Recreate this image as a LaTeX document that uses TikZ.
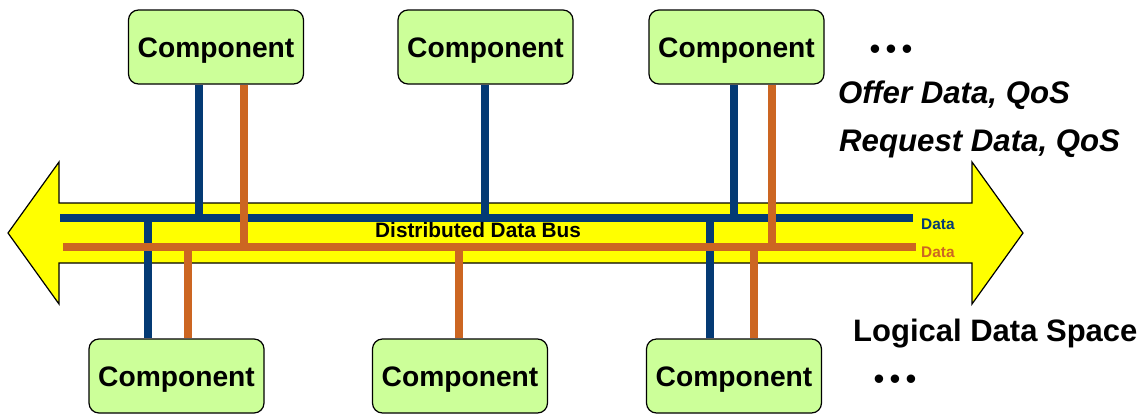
\documentclass[tikz,border=0pt]{standalone}
\usepackage{fontspec}
\setmainfont{Liberation Sans}
\definecolor{databLue}{RGB}{4,58,116}
\definecolor{busyellow}{RGB}{255,255,0}
\definecolor{dataorange}{RGB}{204,102,34}
\definecolor{compgreen}{RGB}{204,255,153}
\tikzset{
  comp/.style={draw=black, line width=1.2pt, fill=compgreen, rounded corners=10pt,
    minimum width=175pt, minimum height=74pt, inner sep=0pt,
    text height=20pt, text depth=0pt,
    font=\fontsize{28.2}{30}\selectfont\bfseries},
  blueline/.style={draw=databLue, line width=7.5pt},
  orangeline/.style={draw=dataorange, line width=7.5pt},
  bigtext/.style={inner sep=0pt, anchor=base west, font=\fontsize{31}{34}\selectfont\bfseries},
  smalldata/.style={inner sep=0pt, anchor=base west, font=\fontsize{15.4}{17}\selectfont\bfseries},
}
\begin{document}
\begin{tikzpicture}[x=1pt, y=-1pt]
\useasboundingbox (0,0) rectangle (1148,413);

% double-headed bus arrow
\draw[fill=busyellow, line width=1.2pt, line join=miter]
  (8,233) -- (59,162) -- (59,203) -- (972,203) -- (972,162) -- (1023,233)
  -- (972,304) -- (972,263) -- (59,263) -- (59,304) -- cycle;

% bus end points
\coordinate (busBW) at (60,218);
\coordinate (busBE) at (913,218);
\coordinate (busOW) at (63,247);
\coordinate (busOE) at (916,247);

% components
\node[comp] (t1) at (216,47) {Component};
\node[comp] (t2) at (485.5,47) {Component};
\node[comp] (t3) at (736.5,47) {Component};
\node[comp] (b1) at (176.5,376) {Component};
\node[comp] (b2) at (460,376) {Component};
\node[comp] (b3) at (734,376) {Component};

% data bus (blue) and its taps
\draw[blueline] (busBW) -- (busBE);
\draw[blueline] (t1.south -| 199,0) -- (199,0 |- busBW);
\draw[blueline] (t2.south -| 485,0) -- (485,0 |- busBW);
\draw[blueline] (t3.south -| 734,0) -- (734,0 |- busBW);
\draw[blueline] (148,0 |- busBW) -- (b1.north -| 148,0);
\draw[blueline] (710,0 |- busBW) -- (b3.north -| 710,0);

% data bus (orange) and its taps
\draw[orangeline] (busOW) -- (busOE);
\draw[orangeline] (t1.south -| 244,0) -- (244,0 |- busOW);
\draw[orangeline] (t3.south -| 772,0) -- (772,0 |- busOW);
\draw[orangeline] (188,0 |- busOW) -- (b1.north -| 188,0);
\draw[orangeline] (459,0 |- busOW) -- (b2.north -| 459,0);
\draw[orangeline] (754,0 |- busOW) -- (b3.north -| 754,0);

% labels
\node[inner sep=0pt, anchor=base west, font=\fontsize{20.8}{23}\selectfont\bfseries] (buslabel) at (375,237) {Distributed Data Bus};
\node[smalldata, text=databLue] (dblue) at (921,229) {Data};
\node[smalldata, text=dataorange] (dorange) at (921,257) {Data};

\node[bigtext, font=\fontsize{31.2}{34}\selectfont\bfseries\itshape] (offer) at (838,103) {Offer Data, QoS};
\node[bigtext, font=\fontsize{31.2}{34}\selectfont\bfseries\itshape] (request) at (839,151) {Request Data, QoS};
\node[bigtext] (space) at (853,341) {Logical Data Space};

\node[inner sep=0pt, font=\fontsize{31}{34}\selectfont] (dotstop) at (891,52) {•\,•\,•};
\node[inner sep=0pt, font=\fontsize{31}{34}\selectfont] (dotsbot) at (895,382) {•\,•\,•};
\end{tikzpicture}
\end{document}
